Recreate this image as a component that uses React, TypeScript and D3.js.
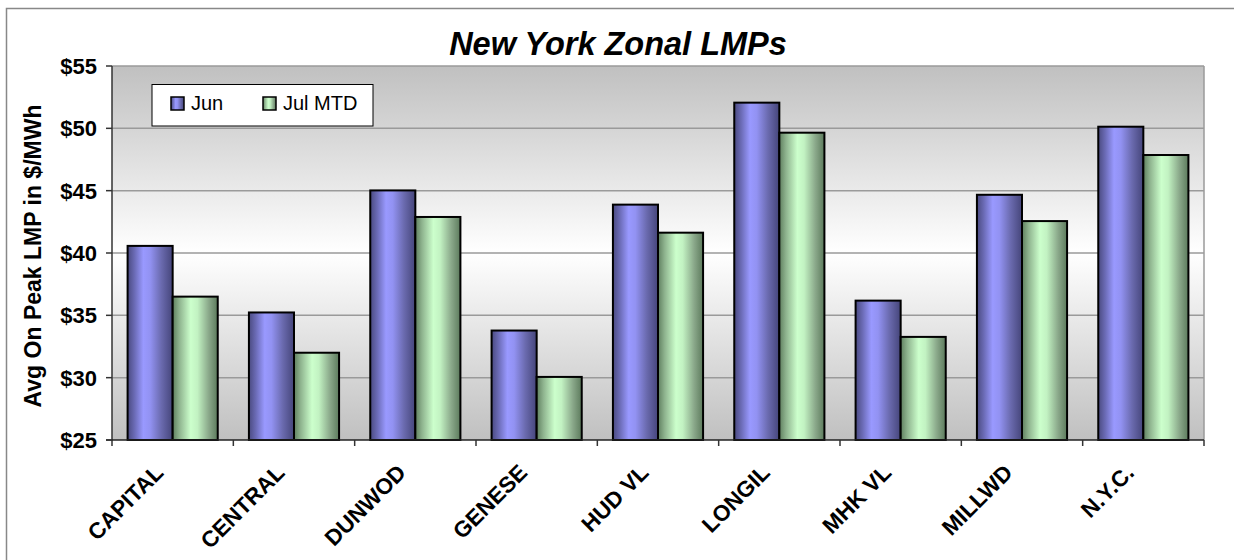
import * as d3 from 'd3';

const zones = ['CAPITAL', 'CENTRAL', 'DUNWOD', 'GENESE', 'HUD VL', 'LONGIL', 'MHK VL', 'MILLWD', 'N.Y.C.'];
const junValues = [40.57, 35.23, 45.02, 33.78, 43.88, 52.06, 36.18, 44.67, 50.13];
const julValues = [36.5, 32.0, 42.89, 30.06, 41.63, 49.65, 33.27, 42.56, 47.86];
const seriesNames = ['Jun', 'Jul MTD'];
const yTicks = [25, 30, 35, 40, 45, 50, 55];

const font = '"Liberation Sans", Arial, sans-serif';

export default function App() {
  const width = 1234,
    height = 560,
    marginTop = 66,
    marginLeft = 112,
    plotRight = 1204,
    plotBottom = 440;

  const x0 = d3
    .scaleBand()
    .domain(zones)
    .range([marginLeft, plotRight])
    .paddingInner(0.257)
    .paddingOuter(0.1285);

  const x1 = d3.scaleBand().domain(seriesNames).range([0, x0.bandwidth()]);

  const y = d3.scaleLinear().domain([25, 55]).range([plotBottom, marginTop]);

  const step = x0.step();
  const boundaries = d3.range(zones.length + 1).map((i) => marginLeft + i * step);

  const rows = zones.map((z, i) => ({ zone: z, values: [junValues[i], julValues[i]] }));

  return (
    <svg
      width={width}
      height={height}
      style={{ position: 'absolute', left: 0, top: 0, background: '#fff' }}
    >
      <defs>
        <linearGradient id="plotBg" x1="0" y1="0" x2="0" y2="1">
          <stop offset="0" stopColor="#c0c0c0" />
          <stop offset="0.5" stopColor="#ffffff" />
          <stop offset="1" stopColor="#c0c0c0" />
        </linearGradient>
        <linearGradient id="blueBar" x1="0" y1="0" x2="1" y2="0">
          <stop offset="0" stopColor="#4a4a80" />
          <stop offset="0.15" stopColor="#6a6ab4" />
          <stop offset="0.35" stopColor="#9999ff" />
          <stop offset="0.5" stopColor="#9292f2" />
          <stop offset="0.75" stopColor="#6a6aae" />
          <stop offset="1" stopColor="#45457a" />
        </linearGradient>
        <linearGradient id="greenBar" x1="0" y1="0" x2="1" y2="0">
          <stop offset="0" stopColor="#5f7f5f" />
          <stop offset="0.15" stopColor="#8fb48f" />
          <stop offset="0.4" stopColor="#ccffcc" />
          <stop offset="0.55" stopColor="#c2f2c2" />
          <stop offset="0.8" stopColor="#8aa88a" />
          <stop offset="1" stopColor="#5c7a5c" />
        </linearGradient>
      </defs>

      {/* chart area border (runs off the right and bottom) */}
      <rect x={6.5} y={8.5} width={1300} height={600} fill="#fff" stroke="#888" strokeWidth={1.5} />

      <text
        x={618}
        y={55}
        textAnchor="middle"
        fontFamily={font}
        fontWeight="bold"
        fontStyle="italic"
        fontSize={32.5}
      >
        New York Zonal LMPs
      </text>

      {/* plot area */}
      <rect
        x={marginLeft}
        y={marginTop}
        width={plotRight - marginLeft}
        height={plotBottom - marginTop}
        fill="url(#plotBg)"
      />
      {yTicks.slice(1).map((t) => (
        <line
          key={t}
          x1={marginLeft}
          x2={plotRight}
          y1={y(t)}
          y2={y(t)}
          stroke="#9a9a9a"
          strokeWidth={1.5}
        />
      ))}
      <line x1={plotRight} x2={plotRight} y1={marginTop} y2={plotBottom} stroke="#9a9a9a" strokeWidth={1.5} />

      {/* bars */}
      {rows.map((r) => (
        <g key={r.zone} transform={`translate(${x0(r.zone)},0)`}>
          {r.values.map((v, j) => (
            <rect
              key={j}
              x={x1(seriesNames[j])}
              y={y(v)}
              width={x1.bandwidth()}
              height={plotBottom - y(v)}
              fill={j === 0 ? 'url(#blueBar)' : 'url(#greenBar)'}
              stroke="#000"
              strokeWidth={2}
            />
          ))}
        </g>
      ))}

      {/* axes */}
      <line x1={marginLeft} x2={marginLeft} y1={marginTop} y2={plotBottom + 1} stroke="#333" strokeWidth={1.5} />
      <line x1={marginLeft - 6} x2={plotRight} y1={plotBottom} y2={plotBottom} stroke="#222" strokeWidth={1.5} />
      {yTicks.map((t) => (
        <g key={t}>
          <line x1={marginLeft - 6} x2={marginLeft} y1={y(t)} y2={y(t)} stroke="#333" strokeWidth={1.5} />
          <text
            x={97}
            y={y(t)}
            dy="0.36em"
            textAnchor="end"
            fontFamily={font}
            fontWeight="bold"
            fontSize={22}
          >
            ${t}
          </text>
        </g>
      ))}
      {boundaries.map((bx, i) => (
        <line key={i} x1={bx} x2={bx} y1={plotBottom} y2={plotBottom + 6} stroke="#333" strokeWidth={1.5} />
      ))}
      {zones.map((z) => {
        const cx = (x0(z) as number) + x0.bandwidth() / 2;
        return (
          <text
            key={z}
            transform={`translate(${cx - 8},474) rotate(-45)`}
            textAnchor="end"
            fontFamily={font}
            fontWeight="bold"
            fontSize={22.5}
          >
            {z}
          </text>
        );
      })}

      <text
        transform={`translate(41,256) rotate(-90)`}
        textAnchor="middle"
        fontFamily={font}
        fontWeight="bold"
        fontSize={23}
      >
        Avg On Peak LMP in $/MWh
      </text>

      {/* legend */}
      <rect x={152} y={84.5} width={221} height={41.5} fill="#fff" stroke="#000" strokeWidth={1} />
      {seriesNames.map((s, j) => {
        const lx = j === 0 ? 171 : 263;
        return (
          <g key={s}>
            <rect
              x={lx}
              y={97}
              width={13}
              height={13}
              fill={j === 0 ? 'url(#blueBar)' : 'url(#greenBar)'}
              stroke="#000"
              strokeWidth={1.5}
            />
            <text x={lx + 20} y={110} fontFamily={font} fontSize={20}>
              {s}
            </text>
          </g>
        );
      })}
    </svg>
  );
}
